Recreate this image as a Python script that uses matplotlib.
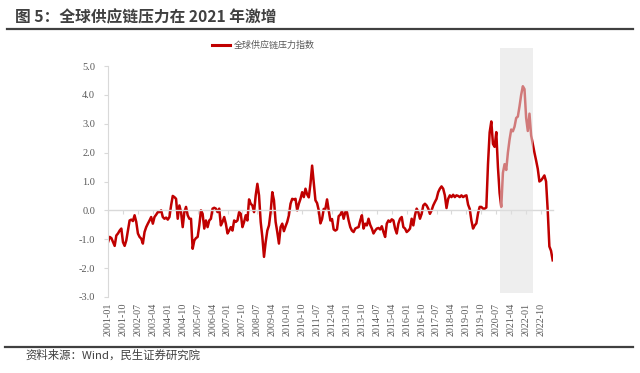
import numpy as np
import pandas as pd
import matplotlib
matplotlib.use("Agg")
import matplotlib.pyplot as plt
from matplotlib.lines import Line2D

# ---------------------------------------------------------------------------
# data: global supply chain pressure index, monthly from 2001-01
start_month = "2001-01"
gscpi = [
    # 2001
    -1.10, -0.92, -0.96, -1.10, -1.23, -0.87, -0.80, -0.70, -0.63, -1.10, -1.23, -1.04,
    # 2002
    -0.70, -0.35, -0.32, -0.37, -0.17, -0.40, -0.80, -0.92, -0.98, -1.15, -0.75, -0.58,
    # 2003
    -0.46, -0.35, -0.23, -0.46, -0.23, -0.15, -0.06, -0.06, 0.00, -0.23, -0.29, -0.25,
    # 2004
    -0.32, -0.23, 0.17, 0.50, 0.46, 0.40, -0.29, 0.17, -0.06, -0.58, -0.06, 0.12,
    # 2005
    -0.17, -0.29, -0.29, -1.33, -1.04, -0.96, -0.92, -0.52, 0.00, -0.12, -0.63, -0.35,
    # 2006
    -0.58, -0.35, -0.29, 0.06, 0.09, 0.06, -0.06, 0.06, -0.52, -0.40, -0.23, -0.46,
    # 2007
    -0.80, -0.70, -0.58, -0.70, -0.35, -0.40, -0.35, -0.06, -0.12, -0.58, -0.40, -0.17,
    # 2008
    -0.35, 0.38, 0.23, 0.17, -0.06, 0.52, 0.92, 0.52, -0.40, -0.92, -1.61, -1.10,
    # 2009
    -0.70, -0.52, -0.06, 0.63, 0.35, -0.40, -0.75, -1.15, -0.58, -0.46, -0.72, -0.55,
    # 2010
    -0.40, -0.17, 0.23, 0.40, 0.38, 0.40, 0.00, 0.23, 0.40, 0.63, 0.46, 0.75,
    # 2011
    0.55, 0.45, 0.92, 1.55, 0.95, 0.35, 0.25, 0.00, -0.45, -0.30, 0.05, 0.05,
    # 2012
    0.38, 0.00, -0.35, -0.30, -0.66, -0.70, -0.66, -0.20, -0.15, -0.03, -0.29, -0.06,
    # 2013
    -0.06, -0.35, -0.58, -0.70, -0.75, -0.63, -0.60, -0.58, -0.35, -0.17, -0.63, -0.46,
    # 2014
    -0.52, -0.29, -0.50, -0.63, -0.80, -0.70, -0.63, -0.61, -0.66, -0.55, -0.75, -0.92,
    # 2015
    -0.46, -0.35, -0.40, -0.31, -0.35, -0.63, -0.80, -0.46, -0.29, -0.23, -0.58, -0.63,
    # 2016
    -0.75, -0.70, -0.63, -0.29, -0.52, -0.17, 0.06, -0.06, -0.29, -0.12, 0.17, 0.23,
    # 2017
    0.17, 0.06, -0.12, 0.00, 0.17, 0.29, 0.40, 0.63, 0.75, 0.83, 0.75, 0.52,
    # 2018
    0.08, 0.40, 0.52, 0.46, 0.54, 0.46, 0.52, 0.50, 0.46, 0.52, 0.46, 0.50,
    # 2019
    0.52, 0.20, 0.05, -0.35, -0.63, -0.52, -0.45, -0.10, 0.12, 0.12, 0.06, 0.06,
    # 2020
    0.10, 1.60, 2.70, 3.08, 2.30, 2.20, 2.71, 1.50, 0.60, 0.12, 1.30, 1.60,
    # 2021
    1.40, 2.00, 2.45, 2.80, 2.74, 2.90, 3.20, 3.25, 3.60, 4.00, 4.30, 4.20,
    # 2022
    3.20, 2.75, 3.35, 2.60, 2.30, 2.00, 1.73, 1.44, 1.00, 1.04, 1.12, 1.21,
    # 2023
    1.00, 0.00, -1.25, -1.40, -1.73,
]
series_name = "全球供应链压力指数"
shade_from, shade_to = "2020-09", "2022-05"
label_step = 9  # months between x labels
y_ticks = [-3, -2, -1, 0, 1, 2, 3, 4, 5]

title = "图 5：全球供应链压力在 2021 年激增"
source = "资料来源：Wind，民生证券研究院"

# ---------------------------------------------------------------------------
CJK = ["Noto Sans CJK SC", "DejaVu Sans"]
SERIF = ["Liberation Serif", "DejaVu Serif"]
RED = "#c00000"
GRID = "#d9d9d9"
TXT = "#595959"
DARK = "#404040"

months = pd.date_range(start_month, periods=len(gscpi), freq="MS")
idx = np.arange(len(gscpi))
tick_idx = idx[::label_step]
tick_labels = [m.strftime("%Y-%m") for m in months[::label_step]]
s0 = months.get_loc(pd.Timestamp(shade_from))
s1 = months.get_loc(pd.Timestamp(shade_to))

fig = plt.figure(figsize=(6.4, 3.73), dpi=100)
ax = fig.add_axes([0.1683, 0.2038, 0.6958, 0.6192])

ax.plot(idx, gscpi, color=RED, lw=1.8, zorder=2, label=series_name)
# translucent grey box over the 2021 surge
ax.axvspan(s0, s1, ymin=0.017, ymax=1.078, facecolor="#e0e0e0", alpha=0.55,
           edgecolor="none", zorder=3, clip_on=False)

ax.set_xlim(-0.2, len(gscpi) - 0.8)
ax.set_ylim(-3, 5)
ax.set_yticks(y_ticks)
ax.set_yticklabels([f"{v:.1f}" for v in y_ticks])

for side in ("top", "right"):
    ax.spines[side].set_visible(False)
ax.spines["left"].set_color(GRID)
ax.spines["bottom"].set_position(("data", 0))
ax.spines["bottom"].set_color(GRID)
ax.spines["bottom"].set_linewidth(1.0)

ax.set_xticks(tick_idx)
ax.tick_params(axis="x", direction="out", length=3, color=GRID, labelbottom=False)
ax.tick_params(axis="y", direction="out", length=3, color=GRID, pad=6,
               labelsize=7.5, labelcolor=TXT)
for t in ax.get_yticklabels():
    t.set_fontfamily(SERIF)

sec = ax.secondary_xaxis(0.0)
sec.set_xticks(tick_idx, labels=tick_labels)
sec.spines["bottom"].set_visible(False)
sec.tick_params(length=0, pad=4, labelrotation=90, labelsize=7.2, labelcolor=TXT)
for t in sec.get_xticklabels():
    t.set_fontfamily(SERIF)

# legend
h = [Line2D([], [], color=RED, lw=2.2)]
fig.legend(h, [series_name], loc="center", bbox_to_anchor=(0.412, 0.879),
           frameon=False, handlelength=2.0, handletextpad=0.4,
           prop={"family": CJK, "size": 6.5}, labelcolor=TXT)

# header / footer
fig.text(15 / 640, 1 - 17 / 373, title, family=CJK, fontsize=11.3,
         fontweight="bold", color=DARK, va="center", ha="left")
fig.add_artist(Line2D([7 / 640, 633 / 640], [1 - 29 / 373] * 2,
                      color=DARK, lw=1.6, transform=fig.transFigure))
fig.add_artist(Line2D([5 / 640, 633 / 640], [1 - 347 / 373] * 2,
                      color=DARK, lw=1.6, transform=fig.transFigure))
fig.text(25 / 640, 1 - 355 / 373, source, family=CJK, fontsize=8.2,
         color=DARK, va="center", ha="left")

fig.savefig("out.png", dpi=100)
